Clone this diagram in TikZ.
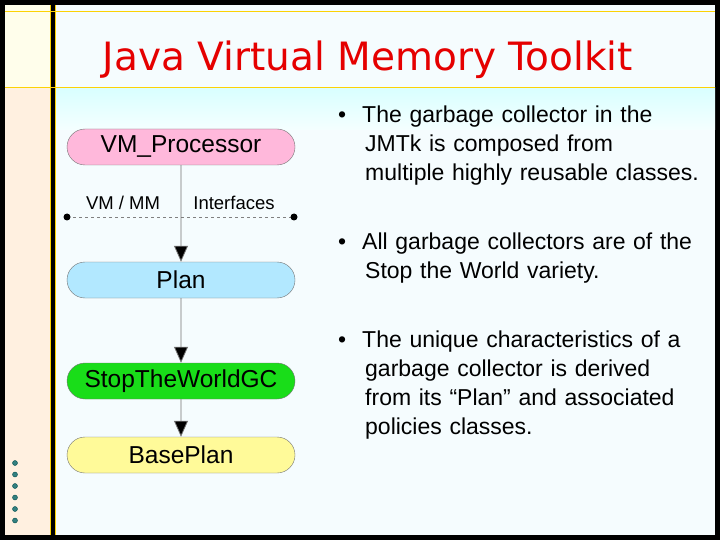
\documentclass[tikz,border=0pt]{standalone}
\usepackage{fontspec}
\setmainfont{Liberation Sans}
\newfontfamily\titlefont{DejaVu Sans}
\usetikzlibrary{arrows.meta,shapes.misc}
\begin{document}
\begin{tikzpicture}[x=1pt,y=-1pt,
  box/.style={rounded rectangle,draw=black!55,minimum width=228pt,minimum height=36pt,inner sep=0pt,font=\fontsize{24.5}{28}\selectfont},
  conn/.style={draw=black!55,line width=0.8pt,-{Triangle[length=16pt,width=14pt,fill=black]}},
  btxt/.style={anchor=north west,align=left,text width=370pt,font=\fontsize{23}{29}\selectfont,inner sep=0pt}]
\useasboundingbox (0,0) rectangle (720,540);
\fill[black] (0,0) rectangle (720,540);
\fill[yellow!8!white] (5,5) rectangle (50,535);
\fill[orange!12!white] (5,88) rectangle (50,535);
\draw[yellow!70!orange,line width=1pt] (50,5) -- (50,535);
\fill[cyan!4!white] (55,5) rectangle (715,535);
\shade[top color=cyan!15!white,bottom color=cyan!4!white] (55,88) rectangle (715,130);
\draw[yellow!70!orange,line width=1pt] (5,88) -- (715,88);
\draw[yellow!70!orange,line width=1pt] (5,12) -- (715,12);
\draw[yellow!70!orange,line width=1pt] (55,5) -- (55,535);
\node[font=\titlefont\fontsize{39}{44}\selectfont,text=red!90!black,inner sep=0pt] (title) at (368,60) {Java Virtual Memory Toolkit};
\node[box,fill=pink!80!magenta!70] (vm) at (181,147) {VM\_Processor};
\node[box,fill=blue!30!cyan!30] (plan) at (181,280) {Plan};
\node[box,fill=green!85!black!90] (stw) at (181,381) {StopTheWorldGC};
\node[box,fill=yellow!40] (base) at (181,455) {BasePlan};
\coordinate (dl) at (67,217); \coordinate (dr) at (294,217);
\draw[black!50,dashed] (dl) -- (dr);
\fill (dl) circle (3.5pt) (dr) circle (3.5pt);
\node[font=\fontsize{18.5}{20}\selectfont] (vmmm) at (123,203) {VM / MM};
\node[font=\fontsize{18.5}{20}\selectfont] (intf) at (234,203) {Interfaces};
\draw[conn] (vm) -- (plan);
\draw[conn] (plan) -- (stw);
\draw[conn] (stw) -- (base);
\foreach \i in {0,...,5} \draw[fill=teal!60!gray,draw=teal!60!black] (15,463+\i*11.5) circle (2.5pt);
\node[btxt] (b1) at (338,106) {•\hspace{16pt}The garbage collector in the\\\hspace*{27pt}JMTk is composed from\\\hspace*{27pt}multiple highly reusable classes.};
\node[btxt] (b2) at (338,233) {•\hspace{16pt}All garbage collectors are of the\\\hspace*{27pt}Stop the World variety.};
\node[btxt] (b3) at (338,331) {•\hspace{16pt}The unique characteristics of a\\\hspace*{27pt}garbage collector is derived\\\hspace*{27pt}from its “Plan” and associated\\\hspace*{27pt}policies classes.};
\end{tikzpicture}
\end{document}
